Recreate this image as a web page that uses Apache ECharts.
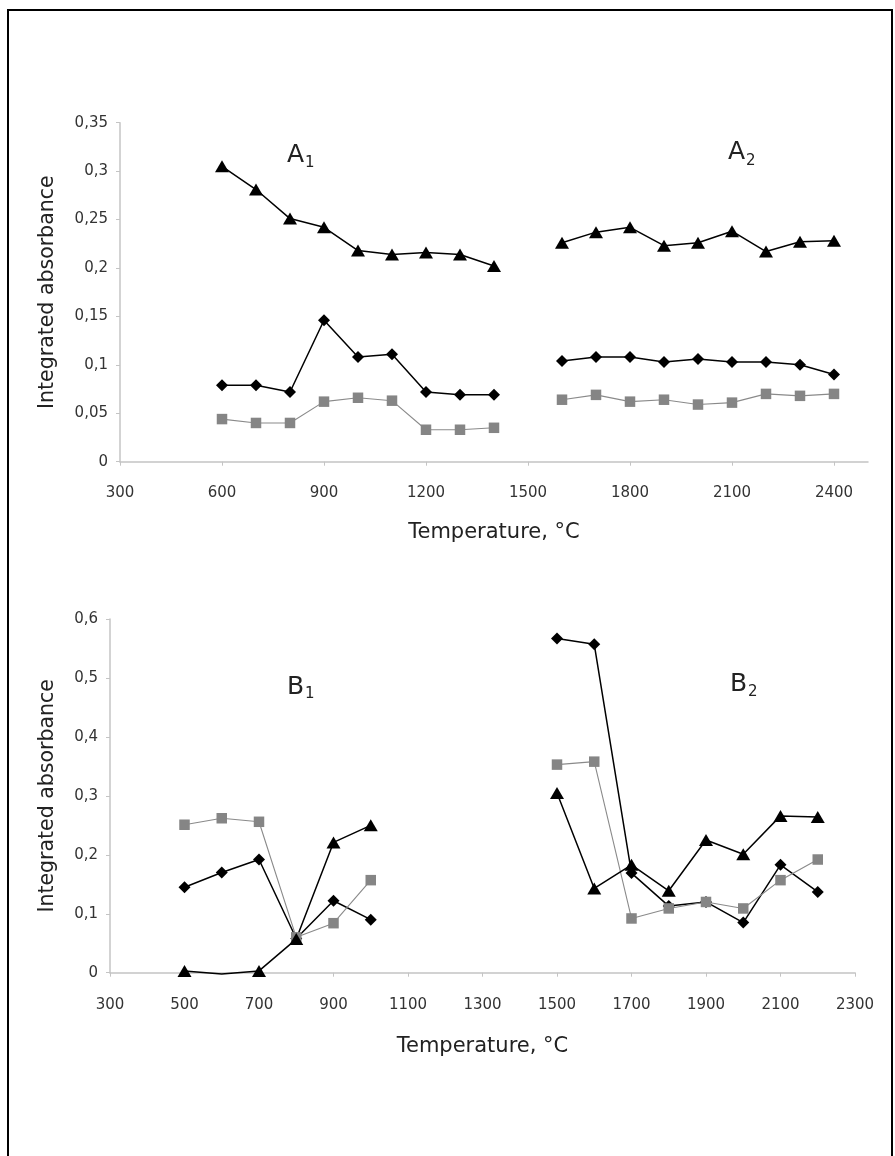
<!DOCTYPE html>
<html>
<head>
<meta charset="utf-8">
<script src="https://cdn.jsdelivr.net/npm/echarts/dist/echarts.min.js"></script>
<style>
  html, body { margin: 0; padding: 0; background: #fff; }
  #chart { width: 895px; height: 1156px; }
</style>
</head>
<body>
<div id="chart"></div>
<script>
// Temperatures (ºC) for each run
const tempA1 = [600, 700, 800, 900, 1000, 1100, 1200, 1300, 1400];
const tempA2 = [1600, 1700, 1800, 1900, 2000, 2100, 2200, 2300, 2400];
const tempB1 = [500, 600, 700, 800, 900, 1000];
const tempB2 = [1500, 1600, 1700, 1800, 1900, 2000, 2100, 2200];

// Integrated absorbance, panel A
const a1Diamond  = [0.079, 0.079, 0.072, 0.146, 0.108, 0.111, 0.072, 0.069, 0.069];
const a1Square   = [0.044, 0.040, 0.040, 0.062, 0.066, 0.063, 0.033, 0.033, 0.035];
const a1Triangle = [0.305, 0.281, 0.251, 0.242, 0.218, 0.214, 0.216, 0.214, 0.202];
const a2Diamond  = [0.104, 0.108, 0.108, 0.103, 0.106, 0.103, 0.103, 0.100, 0.090];
const a2Square   = [0.064, 0.069, 0.062, 0.064, 0.059, 0.061, 0.070, 0.068, 0.070];
const a2Triangle = [0.226, 0.237, 0.242, 0.223, 0.226, 0.238, 0.217, 0.227, 0.228];

// Integrated absorbance, panel B
const b1Diamond  = [0.145, 0.170, 0.192, 0.058, 0.122, 0.090];
const b1Square   = [0.251, 0.262, 0.256, 0.060, 0.084, 0.157];
const b1Triangle = [0.003, -0.002, 0.003, 0.057, 0.221, 0.250];
const b2Diamond  = [0.567, 0.557, 0.169, 0.113, 0.120, 0.085, 0.183, 0.137];
const b2Square   = [0.353, 0.358, 0.092, 0.109, 0.120, 0.109, 0.157, 0.192];
const b2Triangle = [0.305, 0.143, 0.183, 0.139, 0.225, 0.201, 0.266, 0.264];

// Axis tick labels
const xTicksA = [300, 600, 900, 1200, 1500, 1800, 2100, 2400];
const xTicksB = [300, 500, 700, 900, 1100, 1300, 1500, 1700, 1900, 2100, 2300];

const FONT = 'DejaVu Sans';
const AXIS_GRAY = '#c4c4c4';

const marks = {
  diamond:  { symbol: 'diamond',  symbolSize: [12, 12], color: '#000', lineColor: '#000', width: 1.5 },
  square:   { symbol: 'rect',     symbolSize: 10.5,     color: '#858585', lineColor: '#8a8a8a', width: 1.1 },
  triangle: { symbol: 'triangle', symbolSize: [14, 12], color: '#000', lineColor: '#000', width: 1.5 }
};

function makeSeries(temps, vals, kind, gridIdx) {
  const m = marks[kind];
  return {
    type: 'line',
    xAxisIndex: gridIdx,
    yAxisIndex: gridIdx,
    clip: false,
    symbol: m.symbol,
    symbolSize: m.symbolSize,
    itemStyle: { color: m.color },
    lineStyle: { color: m.lineColor, width: m.width },
    animation: false,
    silent: true,
    // markers of values below the axis are not drawn
    data: temps.map((t, i) => vals[i] < 0 ? { value: [t, vals[i]], symbol: 'none' } : [t, vals[i]])
  };
}

const commaFmt = v => String(parseFloat(v.toFixed(3))).replace('.', ',');

function xAxis(gridIdx, min, max, interval, ticks, nameGap, margin) {
  return {
    type: 'value', gridIndex: gridIdx, min, max, interval,
    name: 'Temperature, °C', nameLocation: 'middle', nameGap,
    nameTextStyle: { fontFamily: FONT, fontSize: 21, color: '#222' },
    axisLine: { lineStyle: { color: AXIS_GRAY, width: 1.5 } },
    axisTick: { show: true, length: 4, customValues: ticks, lineStyle: { color: AXIS_GRAY } },
    axisLabel: { customValues: ticks, formatter: v => String(v), margin,
                 fontFamily: FONT, fontSize: 15, color: '#333' },
    splitLine: { show: false }
  };
}

function yAxis(gridIdx, max, interval, nameGap) {
  return {
    type: 'value', gridIndex: gridIdx, min: 0, max, interval,
    name: 'Integrated absorbance', nameLocation: 'middle', nameRotate: 90, nameGap,
    nameTextStyle: { fontFamily: FONT, fontSize: 20.5, color: '#222' },
    axisLine: { show: true, lineStyle: { color: AXIS_GRAY, width: 1.5 } },
    axisTick: { show: true, length: 4, lineStyle: { color: AXIS_GRAY } },
    axisLabel: { formatter: commaFmt, margin: 12, fontFamily: FONT, fontSize: 15, color: '#333' },
    splitLine: { show: false }
  };
}

function panelLabel(letter, sub, x, y, subDx, subDy) {
  return [
    { type: 'text', left: x, top: y, style: { text: letter, font: '25px "DejaVu Sans"', fill: '#222' } },
    { type: 'text', left: x + subDx, top: y + subDy, style: { text: sub, font: '15px "DejaVu Sans"', fill: '#222' } }
  ];
}

const chart = echarts.init(document.getElementById('chart'), null, { renderer: 'canvas' });
chart.setOption({
  backgroundColor: '#fff',
  animation: false,
  grid: [
    { left: 120, right: 27, top: 122.7, height: 339 },
    { left: 110, right: 40, top: 619, height: 353.7 }
  ],
  xAxis: [
    xAxis(0, 300, 2500, 300, xTicksA, 60, 24),
    xAxis(1, 300, 2300, 200, xTicksB, 63, 25)
  ],
  yAxis: [
    yAxis(0, 0.35, 0.05, 62),
    yAxis(1, 0.6, 0.1, 52)
  ],
  series: [
    makeSeries(tempA1, a1Diamond, 'diamond', 0),
    makeSeries(tempA1, a1Square, 'square', 0),
    makeSeries(tempA1, a1Triangle, 'triangle', 0),
    makeSeries(tempA2, a2Diamond, 'diamond', 0),
    makeSeries(tempA2, a2Square, 'square', 0),
    makeSeries(tempA2, a2Triangle, 'triangle', 0),
    makeSeries(tempB1, b1Diamond, 'diamond', 1),
    makeSeries(tempB1, b1Square, 'square', 1),
    makeSeries(tempB1, b1Triangle, 'triangle', 1),
    makeSeries(tempB2, b2Diamond, 'diamond', 1),
    makeSeries(tempB2, b2Square, 'square', 1),
    makeSeries(tempB2, b2Triangle, 'triangle', 1)
  ],
  graphic: [
    // page frame (open at the bottom)
    { type: 'rect', shape: { x: 8, y: 10, width: 884, height: 1170 },
      style: { fill: 'none', stroke: '#000', lineWidth: 2 }, silent: true },
    ...panelLabel('A', '1', 287, 143, 18, 13),
    ...panelLabel('A', '2', 728, 140, 18, 14),
    ...panelLabel('B', '1', 287, 675, 18, 12),
    ...panelLabel('B', '2', 730, 672, 18, 13)
  ]
});
</script>
</body>
</html>
